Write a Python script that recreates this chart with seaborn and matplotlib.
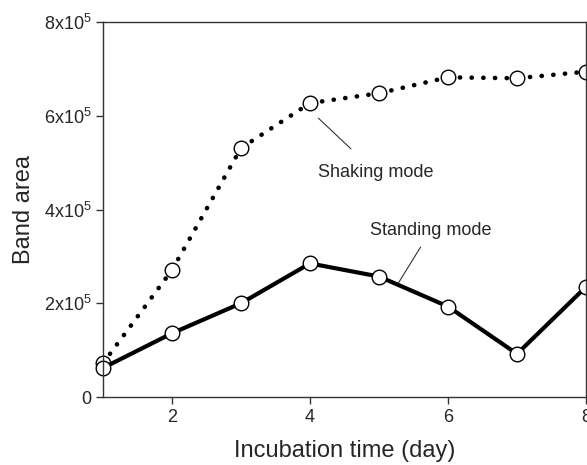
import numpy as np
import pandas as pd
import matplotlib
matplotlib.use('Agg')
import matplotlib.pyplot as plt
import seaborn as sns

sns.set_theme(style='ticks')
plt.rcParams.update({
    'font.family': ['Liberation Sans', 'DejaVu Sans'],
    'mathtext.fontset': 'custom',
    'mathtext.rm': 'Liberation Sans',
    'mathtext.it': 'Liberation Sans',
    'axes.linewidth': 1.0,
    'axes.edgecolor': '#333333',
})

days = [1, 2, 3, 4, 5, 6, 7, 8]
shaking = [72000, 271000, 531000, 627000, 648000, 682000, 680000, 694000]
standing = [62000, 136000, 200000, 285000, 257000, 193000, 92000, 235000]
y_ticks = [0, 200000, 400000, 600000, 800000]
y_ticklabels = ['0', r'$\mathrm{2x10}^{5}$', r'$\mathrm{4x10}^{5}$',
                r'$\mathrm{6x10}^{5}$', r'$\mathrm{8x10}^{5}$']
x_ticks = [2, 4, 6, 8]

df = pd.DataFrame({'day': days, 'Shaking mode': shaking, 'Standing mode': standing})

fig = plt.figure(figsize=(5.87, 4.65), dpi=100)
ax = fig.add_axes([0.1755, 0.1462, 0.8228, 0.8065])

# dotted line for shaking mode, solid for standing mode
sns.lineplot(data=df, x='day', y='Shaking mode', ax=ax, color='black',
             linewidth=3.3, linestyle=(0, (0.05, 2.5)), dash_capstyle='round',
             marker='o', markersize=10.5, markerfacecolor='white',
             markeredgecolor='black', markeredgewidth=1.0, clip_on=False)
sns.lineplot(data=df, x='day', y='Standing mode', ax=ax, color='black',
             linewidth=3, marker='o', markersize=10.5, markerfacecolor='white',
             markeredgecolor='black', markeredgewidth=1.0, clip_on=False)

ax.set_xlim(1, 8)
ax.set_ylim(0, 800000)
ax.set_xticks(x_ticks)
ax.set_yticks(y_ticks)
ax.set_yticklabels(y_ticklabels)
ax.tick_params(axis='both', direction='out', length=5, width=1, labelsize=13,
               color='#333333')
ax.set_xlabel('Incubation time (day)', fontsize=17, labelpad=10)
ax.set_ylabel('Band area', fontsize=17, labelpad=6)

ax.annotate('Shaking mode', xy=(4.12, 595000), xytext=(4.95, 480000),
            fontsize=13, ha='center', va='center',
            arrowprops=dict(arrowstyle='-', color='#333333', lw=0.8,
                            shrinkA=12, shrinkB=0))
ax.annotate('Standing mode', xy=(5.28, 243000), xytext=(5.75, 355000),
            fontsize=13, ha='center', va='center',
            arrowprops=dict(arrowstyle='-', color='#333333', lw=0.8,
                            shrinkA=4, shrinkB=0))

fig.savefig('out.png', dpi=100)
